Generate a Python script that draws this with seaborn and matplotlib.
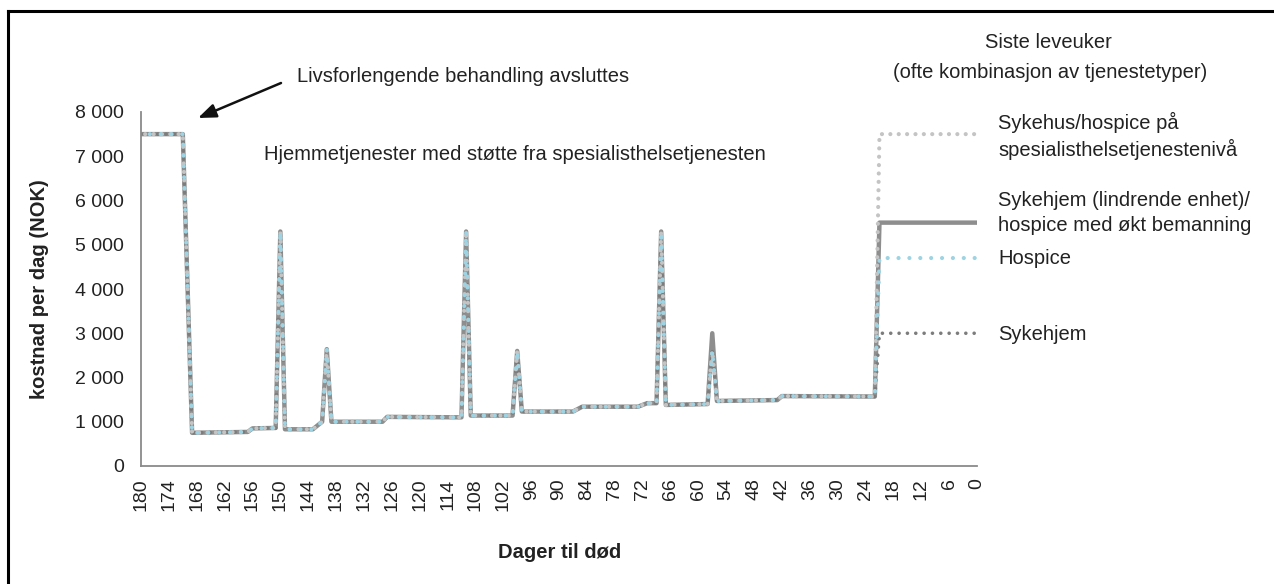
import matplotlib
matplotlib.use("Agg")
import matplotlib.pyplot as plt
from matplotlib.ticker import FuncFormatter
from matplotlib.lines import Line2D
import numpy as np
import pandas as pd
import seaborn as sns

# Shared cost path (days before death -> NOK per day) while at home
path_days = [180, 171, 169, 157, 156, 151, 150, 149, 143, 141, 140, 139, 128, 127,
             111, 110, 109, 100, 99, 98, 87, 85, 73, 71, 69, 68, 67, 58, 57, 56,
             43, 42, 22]
path_cost = [7500, 7500, 750, 770, 850, 860, 5300, 830, 830, 1000, 2640, 1000, 1000, 1110,
             1100, 5300, 1140, 1140, 2600, 1230, 1230, 1340, 1340, 1420, 1420, 5300, 1380, 1400, 2600, 1470,
             1490, 1580, 1570]

# Last weeks: level per service type
series_names = [
    "Sykehjem (lindrende enhet)/\nhospice med økt bemanning",
    "Sykehjem",
    "Sykehus/hospice på\nspesialisthelsetjenestenivå",
    "Hospice",
]
final_level = [5500, 3000, 7500, 4700]
final_days = [21, 0]
# Day-57 peak differs slightly for the solid series
peak57 = [3000, 2600, 2600, 2600]

x_ticks = list(range(180, -1, -6))
y_ticks = list(range(0, 8001, 1000))

styles = [
    dict(color="#8e8e8e", lw=3.2, ls="-"),
    dict(color="#7c7c7c", lw=2.6, ls=(0, (0.01, 2.3))),
    dict(color="#c4c4c4", lw=3.0, ls=(1.0, (0.01, 2.0))),
    dict(color="#9dd3e2", lw=3.0, ls=(0.5, (0.01, 2.6))),
]

sns.set_theme(style="white")
plt.rcParams["font.family"] = ["Liberation Sans", "DejaVu Sans"]

W, H = 1274, 584
fig = plt.figure(figsize=(W / 100, H / 100), dpi=100)
ax = fig.add_axes([141 / W, (H - 466) / H, (977 - 141) / W, (466 - 112) / H])

for name, level, pk, st in zip(series_names, final_level, peak57, styles):
    cost = [pk if d == 57 else c for d, c in zip(path_days, path_cost)]
    df = pd.DataFrame({
        "day": path_days + final_days,
        "cost": cost + [level, level],
    })
    sns.lineplot(data=df, x="day", y="cost", ax=ax, estimator=None, sort=False,
                 color=st["color"], linewidth=st["lw"], linestyle=st["ls"],
                 dash_capstyle="round", solid_joinstyle="round", solid_capstyle="butt")

ax.set_xlim(180, 0)
ax.set_ylim(0, 8000)
ax.set_xticks(x_ticks)
ax.set_xticklabels([str(t) for t in x_ticks], rotation=90)
ax.set_yticks(y_ticks)
ax.yaxis.set_major_formatter(FuncFormatter(lambda v, p: f"{int(v):,}".replace(",", " ")))
ax.tick_params(axis="both", length=0, labelsize=14, colors="#222222")
ax.tick_params(axis="x", pad=9)
ax.tick_params(axis="y", pad=12)
ax.set_xlabel("")
ax.set_ylabel("")
for side in ["top", "right"]:
    ax.spines[side].set_visible(False)
for side in ["left", "bottom"]:
    ax.spines[side].set_color("#8a8a8a")
    ax.spines[side].set_linewidth(1.3)
ax.grid(False)

def fy(y):
    return H - y

txt = dict(fontsize=14.5, color="#222222")
fig.text(40 / W, fy(289) / H, "kostnad per dag (NOK)", rotation=90, ha="center", va="center",
         fontweight="bold", **txt)
fig.text(560 / W, fy(553) / H, "Dager til død", ha="center", va="center", fontweight="bold", **txt)

fig.text(297 / W, fy(76) / H, "Livsforlengende behandling avsluttes", ha="left", va="center", **txt)
fig.text(264 / W, fy(155) / H, "Hjemmetjenester med støtte fra spesialisthelsetjenesten",
         ha="left", va="center", **txt)
ax.annotate("", xy=(198, fy(118)), xycoords="figure pixels",
            xytext=(281, fy(83)), textcoords="figure pixels",
            arrowprops=dict(arrowstyle="-|>,head_length=0.9,head_width=0.35", color="#111111",
                            lw=1.8, shrinkA=0, shrinkB=0))

fig.text(1048 / W, fy(43) / H, "Siste leveuker", ha="center", va="center", **txt)
fig.text(1050 / W, fy(72) / H, "(ofte kombinasjon av tjenestetyper)", ha="center", va="center", **txt)

label_y = {
    series_names[2]: 136,
    series_names[0]: 213,
    series_names[3]: 258,
    series_names[1]: 334,
}
for name, yy in label_y.items():
    fig.text(998 / W, fy(yy) / H, name, ha="left", va="center", linespacing=1.35, **txt)

# Frame around the figure
fig.add_artist(Line2D([8 / W, 8 / W], [-0.1, fy(10.5) / H], transform=fig.transFigure,
                      color="black", lw=2.2, solid_capstyle="projecting"))
fig.add_artist(Line2D([8 / W, 1.1], [fy(10.5) / H, fy(10.5) / H], transform=fig.transFigure,
                      color="black", lw=2.2, solid_capstyle="projecting"))

fig.savefig("out.png", dpi=100, facecolor="white")
